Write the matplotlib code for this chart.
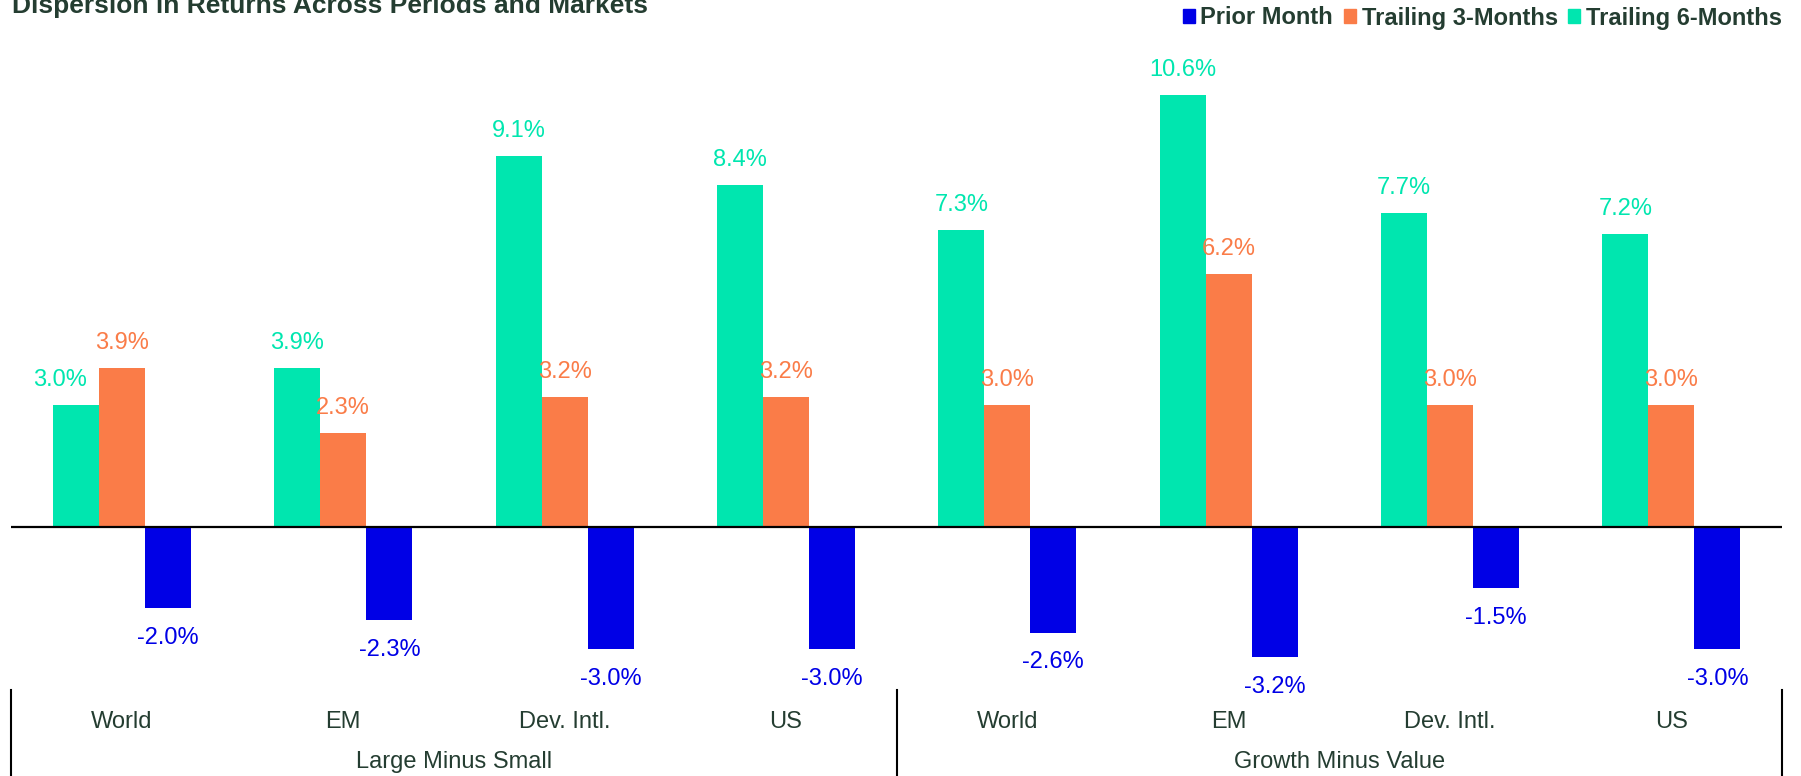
import matplotlib
matplotlib.use("Agg")
import matplotlib.pyplot as plt
import numpy as np
from matplotlib.patches import Patch
from matplotlib.lines import Line2D

plt.rcParams['font.family'] = ['Liberation Sans', 'DejaVu Sans']

categories = ["World", "EM", "Dev. Intl.", "US", "World", "EM", "Dev. Intl.", "US"]
groups = ["Large Minus Small", "Growth Minus Value"]
trailing_6m = [3.0, 3.9, 9.1, 8.4, 7.3, 10.6, 7.7, 7.2]
trailing_3m = [3.9, 2.3, 3.2, 3.2, 3.0, 6.2, 3.0, 3.0]
prior_month = [-2.0, -2.3, -3.0, -3.0, -2.6, -3.2, -1.5, -3.0]

GREEN = "#00E6AF"
ORANGE = "#FA7C48"
BLUE = "#0000E6"
TXT = "#243D31"

W, H = 1801, 776
fig = plt.figure(figsize=(W / 100, H / 100), dpi=100)

# axes placed in pixel terms
left, right, top, bottom = 11.3, 1782, 60, 690
ax = fig.add_axes([left / W, 1 - bottom / H, (right - left) / W, (bottom - top) / H])

x = np.arange(len(categories))
bw = 0.208
series = [(trailing_6m, GREEN, -bw), (trailing_3m, ORANGE, 0), (prior_month, BLUE, bw)]

for vals, col, off in series:
    bars = ax.bar(x + off, vals, width=bw, color=col, linewidth=0)
    for i, (b, v) in enumerate(zip(bars, vals)):
        dx = 0
        # first 6m label pushed left so it clears the 3m label
        if col == GREEN and i == 0:
            dx = -11.5
        dy = 18 if v >= 0 else -21.5
        ax.annotate("{:.1f}%".format(v), (b.get_x() + b.get_width() / 2, v),
                    xytext=(dx, dy), textcoords="offset points",
                    ha="center", va="center", fontsize=17, color=col)

ax.axhline(0, color="black", lw=1.6)
ax.set_xlim(-0.5, len(categories) - 0.5)
ax.set_ylim(-4.01, 11.47)
ax.axis("off")

# category and group labels under the plot
for i, c in enumerate(categories):
    ax.text(i, -0.05, c, transform=ax.get_xaxis_transform(), ha="center", va="center",
            fontsize=17, color=TXT, clip_on=False)
for g, name in enumerate(groups):
    ax.text(g * 4 + 1.5, -0.115, name, transform=ax.get_xaxis_transform(), ha="center",
            va="center", fontsize=17, color=TXT, clip_on=False)

for xs in [-0.5, 3.5, 7.5]:
    ax.add_line(Line2D([xs, xs], [0, -0.14], transform=ax.get_xaxis_transform(),
                       color="black", lw=1.5, clip_on=False))

fig.text(12 / W, 1 - 12.5 / H, "Dispersion in Returns Across Periods and Markets",
         ha="left", va="baseline", fontsize=19, fontweight="bold", color=TXT)

handles = [Patch(color=BLUE), Patch(color=ORANGE), Patch(color=GREEN)]
labels = ["Prior Month", "Trailing 3-Months", "Trailing 6-Months"]
leg = fig.legend(handles, labels, ncol=3, loc="center right",
                 bbox_to_anchor=(1782 / W, 1 - 18 / H), frameon=False,
                 handlelength=0.5, handleheight=0.55, handletextpad=0.25,
                 columnspacing=0.45, borderpad=0, borderaxespad=0,
                 prop={"size": 17, "weight": "bold"})
for t in leg.get_texts():
    t.set_color(TXT)

fig.savefig("out.png", dpi=100)
